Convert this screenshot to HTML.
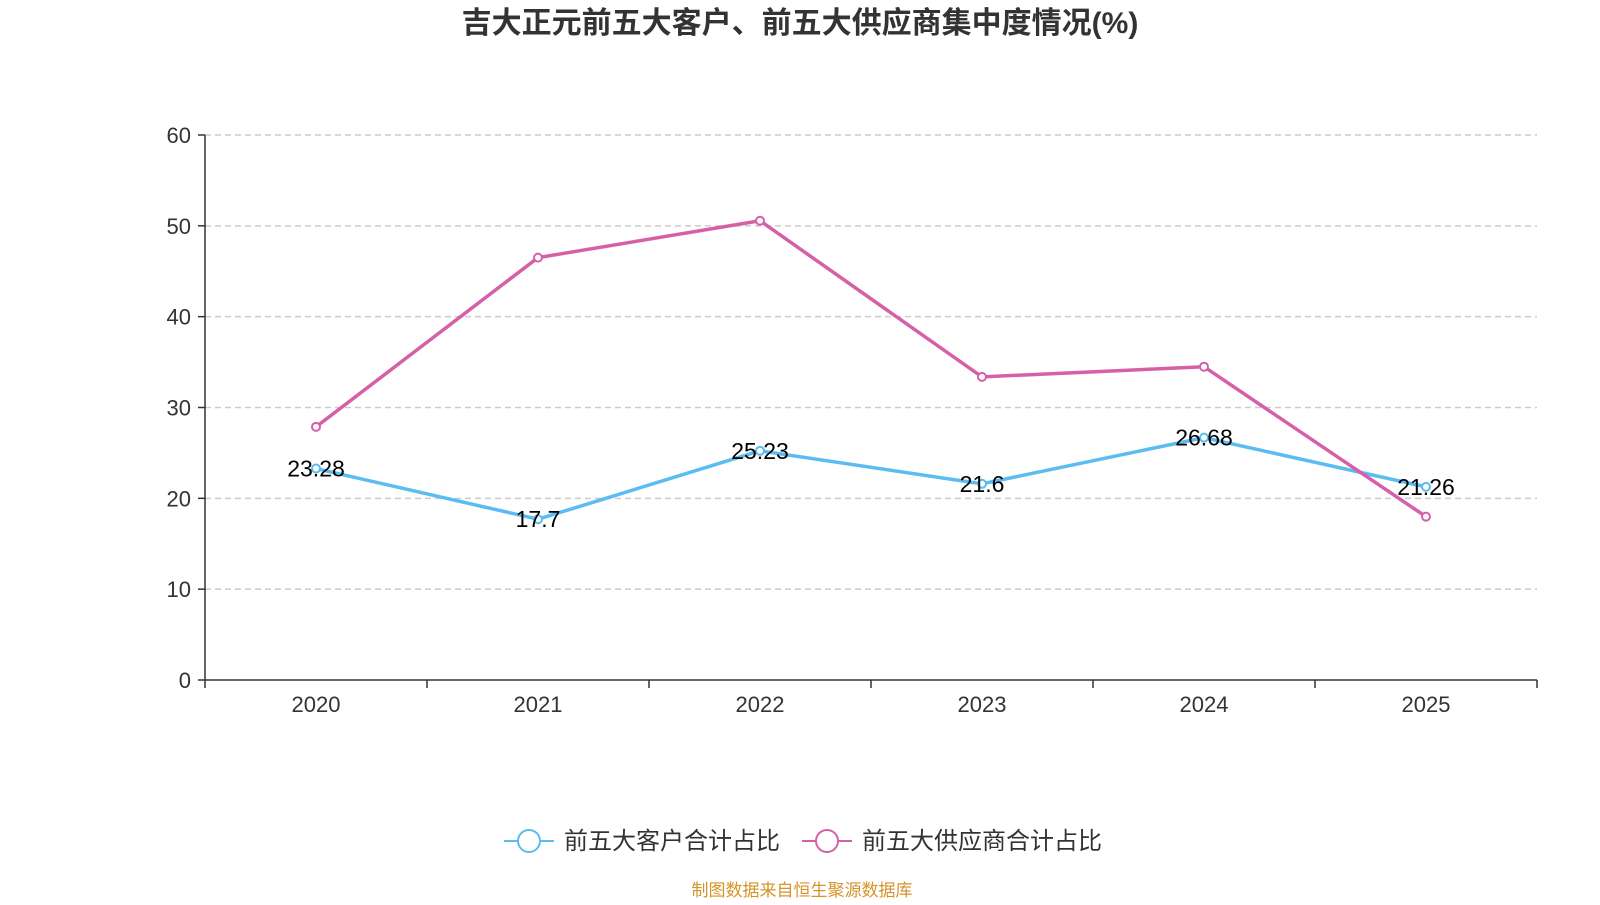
<!DOCTYPE html>
<html><head><meta charset="utf-8">
<style>
html,body{margin:0;padding:0;background:#fff;}
body{width:1600px;height:900px;overflow:hidden;font-family:"Liberation Sans","Noto Sans CJK SC",sans-serif;}
</style></head>
<body>
<svg id="chart" width="1600" height="900" xmlns="http://www.w3.org/2000/svg">
<text x="800" y="33" text-anchor="middle" font-size="30" font-weight="bold" fill="#333" font-family="Liberation Sans, Noto Sans CJK SC, sans-serif">吉大正元前五大客户、前五大供应商集中度情况(%)</text>
<g id="grid"></g><g id="axes"></g><g id="series"></g>
<g>
<g>
<line x1="504" y1="841" x2="554" y2="841" stroke="#5bbcf2" stroke-width="2"/>
<circle cx="529" cy="841" r="11" fill="#fff" stroke="#5bbcf2" stroke-width="2"/>
<text x="564" y="849" font-size="24" fill="#333" font-family="Liberation Sans, Noto Sans CJK SC, sans-serif">前五大客户合计占比</text>
</g>
<g>
<line x1="802" y1="841" x2="852" y2="841" stroke="#d660a8" stroke-width="2"/>
<circle cx="827" cy="841" r="11" fill="#fff" stroke="#d660a8" stroke-width="2"/>
<text x="862" y="849" font-size="24" fill="#333" font-family="Liberation Sans, Noto Sans CJK SC, sans-serif">前五大供应商合计占比</text>
</g>
</g>
<text x="802" y="896" text-anchor="middle" font-size="17" fill="#d4942a" font-family="Liberation Sans, Noto Sans CJK SC, sans-serif">制图数据来自恒生聚源数据库</text>
</svg>
<script>
const categories = ["2020","2021","2022","2023","2024","2025"];
const customerValues = [23.28, 17.7, 25.23, 21.6, 26.68, 21.26];
const supplierValues = [27.87, 46.5, 50.56, 33.37, 34.49, 17.98];
const yTicks = [0,10,20,30,40,50,60];

const NS="http://www.w3.org/2000/svg";
const L=205,R=1537,T=135,B=680,yMax=60;
const band=(R-L)/categories.length;
const xs=i=>L+band*(i+0.5);
const ys=v=>B-(v/yMax)*(B-T);
function mk(tag,attrs,parent,txt){const e=document.createElementNS(NS,tag);for(const k in attrs)e.setAttribute(k,attrs[k]);if(txt!==undefined)e.textContent=txt;parent.appendChild(e);return e;}
const grid=document.getElementById('grid'),axes=document.getElementById('axes'),ser=document.getElementById('series');
const F="Liberation Sans, Noto Sans CJK SC, sans-serif";
yTicks.forEach(t=>{
  const y=ys(t);
  if(t>0){const g=mk('line',{x1:L,x2:R,y1:y,y2:y,stroke:'#ccc','stroke-dasharray':'6,4','stroke-width':1.5},grid);
  
  }
  mk('line',{x1:L-7,x2:L,y1:y,y2:y,stroke:'#333','stroke-width':1.5},axes);
  const lb=mk('text',{x:L-14,y:y+8,'text-anchor':'end','font-size':22,fill:'#333','font-family':F},axes,String(t));
  
  
});
const ya=mk('line',{x1:L,x2:L,y1:T,y2:B,stroke:'#333','stroke-width':1.5},axes);


const xa=mk('line',{x1:L,x2:R,y1:B,y2:B,stroke:'#333','stroke-width':1.5},axes);


for(let i=0;i<=categories.length;i++){const x=L+band*i;mk('line',{x1:x,x2:x,y1:B,y2:B+8,stroke:'#333','stroke-width':1.5},axes);}
categories.forEach((c,i)=>{
  const t=mk('text',{x:xs(i),y:B+32,'text-anchor':'middle','font-size':22,fill:'#333','font-family':F},axes,c);
  
  
});
function drawSeries(vals,color,name,labels){
  const p=mk('polyline',{points:vals.map((v,i)=>xs(i)+','+ys(v)).join(' '),fill:'none',stroke:color,'stroke-width':3.5},ser);
  
  
  vals.forEach((v,i)=>{
    const c=mk('circle',{cx:xs(i),cy:ys(v),r:4,fill:'#fff',stroke:color,'stroke-width':2},ser);
    
    
    if(labels){
      const t=mk('text',{x:xs(i),y:ys(v)+8,'text-anchor':'middle','font-size':23,fill:'#000','font-family':F},ser,String(v));
      
      
    }
  });
}
drawSeries(customerValues,'#5bbcf2','customers',true);
drawSeries(supplierValues,'#d660a8','suppliers',false);
</script>
</body></html>
